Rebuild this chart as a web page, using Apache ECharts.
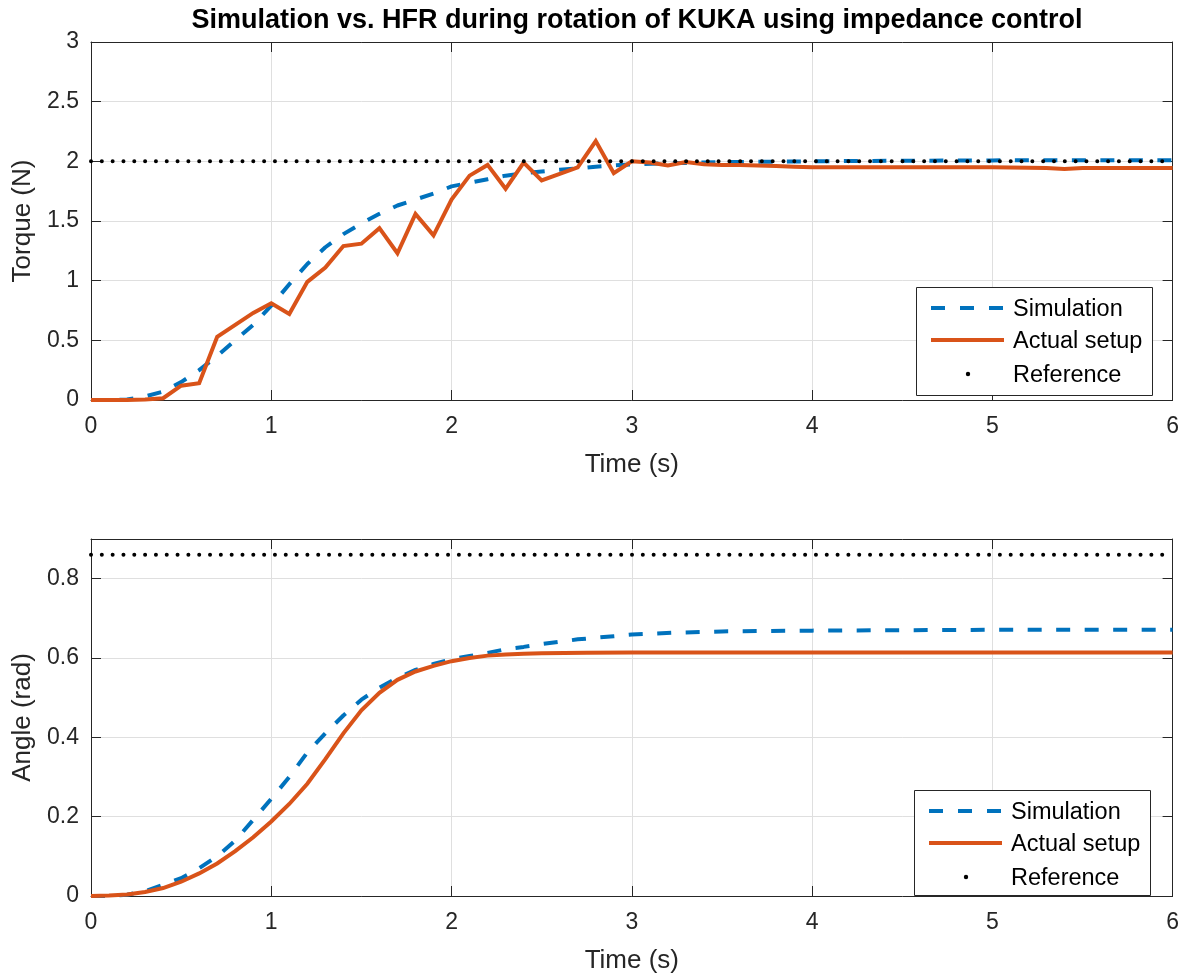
<!DOCTYPE html>
<html>
<head>
<meta charset="utf-8">
<script src="https://cdn.jsdelivr.net/npm/echarts@6/dist/echarts.min.js"></script>
<style>
  html, body { margin: 0; padding: 0; background: #fff; }
  #chart { width: 1182px; height: 975px; }
</style>
</head>
<body>
<div id="chart"></div>
<script>
// ---- Torque response (upper panel) ----
const torqueSimTime = [0, 0.1, 0.2, 0.3, 0.4, 0.5, 0.6, 0.7, 0.8, 0.9, 1.0, 1.1, 1.2, 1.3, 1.4, 1.5, 1.6, 1.7, 1.8, 1.9, 2.0,
  2.1, 2.2, 2.3, 2.4, 2.5, 2.6, 2.7, 2.8, 2.9, 3.0, 3.25, 3.5, 4.0, 4.5, 5.0, 5.5, 6.0];
const torqueSim = [0, 0, 0.005, 0.03, 0.07, 0.15, 0.25, 0.37, 0.5, 0.63, 0.79, 0.97, 1.14, 1.28, 1.39, 1.48, 1.56, 1.63, 1.68, 1.73, 1.79,
  1.82, 1.85, 1.88, 1.9, 1.915, 1.93, 1.94, 1.955, 1.965, 1.975, 1.985, 1.993, 2.0, 2.005, 2.008, 2.01, 2.01];

const torqueActTime = [0, 0.1, 0.2, 0.3, 0.4, 0.5, 0.6, 0.7, 0.8, 0.9, 1.0, 1.1, 1.2, 1.3, 1.4, 1.5, 1.6, 1.7, 1.8, 1.9, 2.0,
  2.1, 2.2, 2.3, 2.4, 2.5, 2.6, 2.7, 2.8, 2.9, 3.0, 3.1, 3.2, 3.3, 3.4, 3.5, 3.6, 3.7, 3.8, 3.9, 4.0, 4.5, 5.0, 5.3, 5.4, 5.5, 6.0];
const torqueAct = [0, 0, 0, 0.005, 0.015, 0.12, 0.14, 0.53, 0.63, 0.73, 0.81, 0.72, 0.99, 1.11, 1.29, 1.31, 1.44, 1.23, 1.56, 1.38, 1.68,
  1.88, 1.97, 1.77, 1.99, 1.84, 1.895, 1.95, 2.17, 1.9, 2.0, 1.99, 1.965, 1.995, 1.975, 1.97, 1.97, 1.965, 1.96, 1.955, 1.95, 1.95, 1.95, 1.945, 1.935, 1.945, 1.945];

const torqueRefTime = [0, 6];
const torqueRef = [2, 2];

// ---- Angle response (lower panel) ----
const angleSimTime = [0, 0.1, 0.2, 0.3, 0.4, 0.5, 0.6, 0.7, 0.8, 0.9, 1.0, 1.1, 1.2, 1.3, 1.4, 1.5, 1.6, 1.7, 1.8, 1.9, 2.0,
  2.1, 2.2, 2.3, 2.4, 2.5, 2.6, 2.7, 2.8, 2.9, 3.0, 3.25, 3.5, 4.0, 4.5, 5.0, 6.0];
const angleSim = [0, 0, 0.003, 0.012, 0.028, 0.045, 0.07, 0.1, 0.14, 0.192, 0.245, 0.3, 0.362, 0.41, 0.455, 0.495, 0.525, 0.55, 0.57, 0.585, 0.597,
  0.605, 0.613, 0.622, 0.628, 0.635, 0.641, 0.647, 0.651, 0.655, 0.659, 0.664, 0.667, 0.669, 0.670, 0.671, 0.671];

const angleActTime = [0, 0.1, 0.2, 0.3, 0.4, 0.5, 0.6, 0.7, 0.8, 0.9, 1.0, 1.1, 1.2, 1.3, 1.4, 1.5, 1.6, 1.7, 1.8, 1.9, 2.0,
  2.1, 2.2, 2.3, 2.4, 2.5, 2.75, 3.0, 4.0, 5.0, 6.0];
const angleAct = [0, 0.001, 0.004, 0.01, 0.02, 0.036, 0.057, 0.082, 0.113, 0.148, 0.188, 0.232, 0.283, 0.345, 0.41, 0.468, 0.512, 0.545, 0.566, 0.58, 0.592,
  0.6, 0.606, 0.609, 0.611, 0.612, 0.613, 0.614, 0.614, 0.614, 0.614];

const angleRefTime = [0, 6];
const angleRef = [0.86, 0.86];

// ---- Axis ticks ----
const timeTicks = { min: 0, max: 6, interval: 1 };
const torqueTicks = { min: 0, max: 3, interval: 0.5 };
const angleTicks = { min: 0, max: 0.9, interval: 0.2 };

const titleText = 'Simulation vs. HFR during rotation of KUKA using impedance control';
const xName = 'Time (s)';
const torqueName = 'Torque (N)';
const angleName = 'Angle (rad)';
const legendNames = ['Simulation', 'Actual setup', 'Reference'];

const FONT = '"Liberation Sans", Arial, Helvetica, sans-serif';
const AX = '#262626';
const GRIDC = '#dfdfdf';
const BLUE = '#0072BD';
const ORANGE = '#D95319';

const pairs = (t, v) => t.map((x, i) => [x, v[i]]);

function xAxisPair(gridIndex, showName) {
  const base = {
    type: 'value', gridIndex, min: timeTicks.min, max: timeTicks.max, interval: timeTicks.interval,
    axisLine: { show: true, onZero: false, lineStyle: { color: AX, width: 1 } },
    axisTick: { show: true, inside: true, length: 10, lineStyle: { color: AX, width: 1 } }
  };
  return [
    Object.assign({}, base, {
      position: 'bottom',
      name: showName, nameLocation: 'middle', nameGap: 52,
      nameTextStyle: { fontFamily: FONT, fontSize: 26, color: AX },
      axisLabel: { fontFamily: FONT, fontSize: 23, color: AX, margin: 15 },
      splitLine: { show: true, lineStyle: { color: GRIDC, width: 1 } }
    }),
    Object.assign({}, base, {
      position: 'top', axisLabel: { show: false }, splitLine: { show: false }
    })
  ];
}

function yAxisPair(gridIndex, ticks, name, hideMax) {
  const base = {
    type: 'value', gridIndex, min: ticks.min, max: ticks.max, interval: ticks.interval,
    axisLine: { show: true, onZero: false, lineStyle: { color: AX, width: 1 } },
    axisTick: { show: true, inside: true, length: 10, lineStyle: { color: AX, width: 1 } }
  };
  return [
    Object.assign({}, base, {
      position: 'left',
      name, nameLocation: 'middle', nameGap: 55,
      nameTextStyle: { fontFamily: FONT, fontSize: 26, color: AX },
      axisLabel: { fontFamily: FONT, fontSize: 23, color: AX, margin: 12, showMaxLabel: !hideMax },
      splitLine: { show: true, lineStyle: { color: GRIDC, width: 1 } }
    }),
    Object.assign({}, base, {
      position: 'right', axisLabel: { show: false }, splitLine: { show: false }
    })
  ];
}

function seriesSet(xi, yi, simT, sim, actT, act, refT, ref) {
  return [
    {
      name: legendNames[0], type: 'line', xAxisIndex: xi, yAxisIndex: yi, data: pairs(simT, sim),
      showSymbol: false, symbol: 'none', z: 2,
      lineStyle: { color: BLUE, width: 4, type: [14, 14.5], cap: 'butt' }
    },
    {
      name: legendNames[1], type: 'line', xAxisIndex: xi, yAxisIndex: yi, data: pairs(actT, act),
      showSymbol: false, symbol: 'none', z: 3,
      lineStyle: { color: ORANGE, width: 4, join: 'miter' }
    },
    {
      name: legendNames[2], type: 'line', xAxisIndex: xi, yAxisIndex: yi, data: pairs(refT, ref),
      showSymbol: false, symbol: 'none', z: 4,
      lineStyle: { color: '#000', width: 4, type: [0.01, 10.81], cap: 'round' }
    }
  ];
}

// Boxed legend drawn inside each panel
function legendBox(x, y, w, h) {
  const rowY = [y + 21, y + 53, y + 87];
  const lx0 = x + 15, tx = x + 97;
  const els = [
    { type: 'rect', shape: { x: x + 0.5, y: y + 0.5, width: w, height: h },
      style: { fill: '#fff', stroke: AX, lineWidth: 1 }, z: 10 }
  ];
  [0, 29, 58].forEach(off => {
    els.push({ type: 'line', shape: { x1: lx0 + off, y1: rowY[0], x2: lx0 + off + 14, y2: rowY[0] },
      style: { stroke: BLUE, lineWidth: 4 }, z: 11 });
  });
  els.push({ type: 'line', shape: { x1: lx0, y1: rowY[1], x2: lx0 + 73, y2: rowY[1] },
    style: { stroke: ORANGE, lineWidth: 4 }, z: 11 });
  els.push({ type: 'circle', shape: { cx: lx0 + 37, cy: rowY[2], r: 2.2 },
    style: { fill: '#000' }, z: 11 });
  legendNames.forEach((n, i) => {
    els.push({ type: 'text', x: tx, y: rowY[i] + 2,
      style: { text: n, fontFamily: FONT, fontSize: 23.5, fill: '#000', verticalAlign: 'middle', align: 'left' }, z: 11 });
  });
  return els;
}

const chart = echarts.init(document.getElementById('chart'), null, { renderer: 'canvas' });

const xA = xAxisPair(0, xName).concat(xAxisPair(1, xName));
const yA = yAxisPair(0, torqueTicks, torqueName, false).concat(yAxisPair(1, angleTicks, angleName, true));

chart.setOption({
  backgroundColor: '#fff',
  animation: false,
  title: {
    text: titleText, left: 632, top: 2, textAlign: 'center',
    textStyle: { fontFamily: FONT, fontSize: 27, fontWeight: 'bold', color: '#000' }
  },
  grid: [
    { left: 91, top: 42, width: 1082, height: 358 },
    { left: 91, top: 539, width: 1082, height: 358 }
  ],
  xAxis: xA,
  yAxis: yA,
  series: seriesSet(0, 0, torqueSimTime, torqueSim, torqueActTime, torqueAct, torqueRefTime, torqueRef)
    .concat(seriesSet(2, 2, angleSimTime, angleSim, angleActTime, angleAct, angleRefTime, angleRef)),
  graphic: legendBox(916, 287, 236, 108).concat(legendBox(914, 790, 236, 105))
});
</script>
</body>
</html>
